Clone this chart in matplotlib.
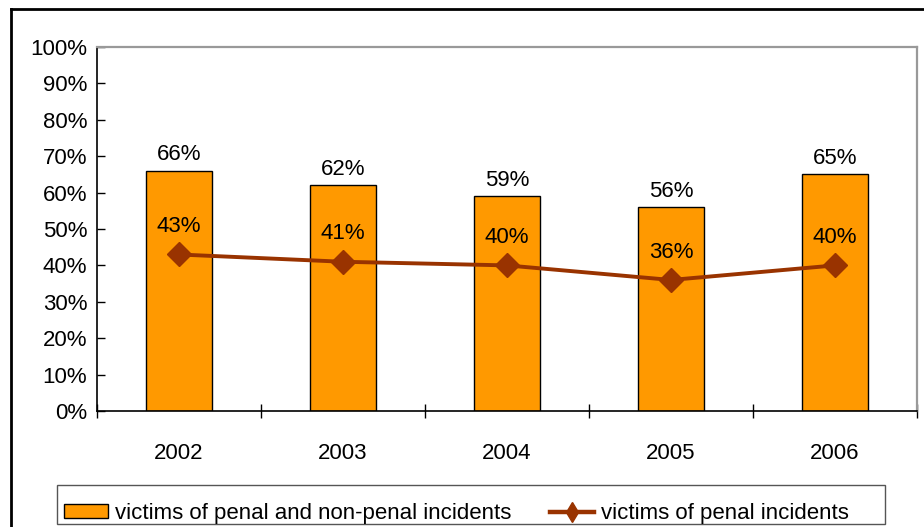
import matplotlib.pyplot as plt
from matplotlib.lines import Line2D
from matplotlib.patches import Rectangle
from matplotlib.ticker import FuncFormatter

YEARS = ["2002", "2003", "2004", "2005", "2006"]
ALL_INCIDENTS = [66, 62, 59, 56, 65]
PENAL_INCIDENTS = [43, 41, 40, 36, 40]
LABEL_ALL = "victims of penal and non-penal incidents"
LABEL_PENAL = "victims of penal incidents"

BAR_COLOR = "#FF9900"
LINE_COLOR = "#993300"

plt.rcParams.update({"font.family": ["Liberation Sans", "DejaVu Sans"], "font.size": 16})

fig = plt.figure(figsize=(9.24, 5.27), dpi=100)
ax = fig.add_axes([97 / 924, 116 / 527, 820 / 924, 364 / 527])

x = list(range(len(YEARS)))
ax.bar(x, ALL_INCIDENTS, width=0.4, color=BAR_COLOR, edgecolor="black",
       linewidth=1.0, label=LABEL_ALL, zorder=2)
ax.plot(x, PENAL_INCIDENTS, color=LINE_COLOR, linewidth=2.8, marker="D",
        markersize=12, label=LABEL_PENAL, zorder=3)

for xi, v in zip(x, ALL_INCIDENTS):
    ax.annotate(f"{v}%", (xi, v), xytext=(0, 4), textcoords="offset points",
                ha="center", va="bottom")
for xi, v in zip(x, PENAL_INCIDENTS):
    ax.annotate(f"{v}%", (xi, v), xytext=(0, 12.5), textcoords="offset points",
                ha="center", va="bottom")

ax.set_xlim(-0.5, len(YEARS) - 0.5)
ax.set_ylim(0, 100)
ax.set_yticks(range(0, 101, 10))
ax.yaxis.set_major_formatter(FuncFormatter(lambda v, _: f"{v:.0f}%"))
ax.tick_params(axis="y", direction="in", length=5.5, width=1, pad=7)

# boundaries carry the tick marks, centres carry the year labels
ax.set_xticks([i - 0.5 for i in range(len(YEARS) + 1)])
ax.set_xticklabels([])
ax.set_xticks(x, minor=True)
ax.set_xticklabels(YEARS, minor=True)
ax.tick_params(axis="x", which="major", direction="inout", length=10, width=1)
ax.tick_params(axis="x", which="minor", length=0, pad=23)

for side in ("left", "bottom"):
    ax.spines[side].set_color("black")
    ax.spines[side].set_linewidth(1.2)
for side in ("top", "right"):
    ax.spines[side].set_color("#999999")
    ax.spines[side].set_linewidth(1.6)

handles = [
    Rectangle((0, 0), 1, 1, facecolor=BAR_COLOR, edgecolor="black", linewidth=1),
    Line2D([], [], color=LINE_COLOR, linewidth=3.2, marker="d", markersize=10),
]
fig.legend(handles, [LABEL_ALL, LABEL_PENAL], loc="lower left",
           bbox_to_anchor=(64 / 924, 3 / 527), ncol=2, frameon=False,
           handlelength=1.98, handleheight=0.6, handletextpad=0.32,
           borderpad=0, borderaxespad=0, columnspacing=1.75)

# legend box, drawn separately so it spans the full width
fig.add_artist(Rectangle((57 / 924, 3 / 527), 828 / 924, 39 / 527,
                         transform=fig.transFigure, fill=False,
                         edgecolor="#555555", linewidth=1.0))

# outer chart frame
fig.add_artist(Line2D([10.5 / 924, 10.5 / 924], [0, 1 - 9 / 527], color="black",
                      linewidth=2, transform=fig.transFigure))
fig.add_artist(Line2D([10.5 / 924, 1], [1 - 9 / 527, 1 - 9 / 527], color="black",
                      linewidth=2, transform=fig.transFigure))

fig.savefig("out.png", dpi=100)
